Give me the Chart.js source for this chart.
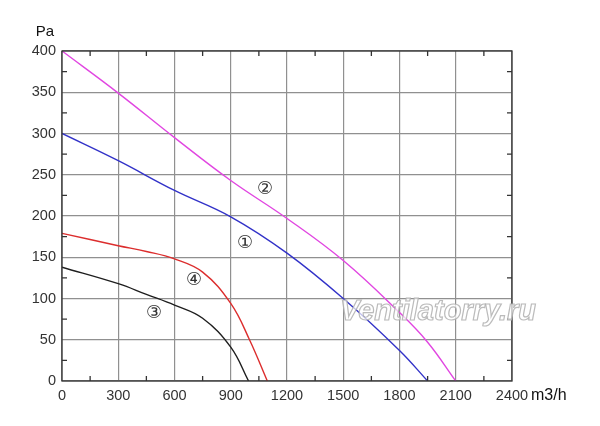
<!DOCTYPE html>
<html>
<head>
<meta charset="utf-8">
<script src="https://cdn.jsdelivr.net/npm/chart.js@4/dist/chart.umd.min.js"></script>
<style>
  html, body { margin: 0; padding: 0; background: #fff; }
  #wrap { width: 600px; height: 426px; }
</style>
</head>
<body>
<div id="wrap"><canvas id="fanChart"></canvas></div>
<script>
// fan curves (flow m3/h -> pressure Pa)
const flow1 = [0, 300, 600, 900, 1200, 1500, 1800, 1950];
const pa1 = [300, 267, 231, 199, 155, 100, 37, 0];
const flow2 = [0, 300, 600, 900, 1200, 1500, 1800, 1950, 2100];
const pa2 = [400, 349, 295, 243, 197, 146, 83, 47, 0];
const flow3 = [0, 300, 450, 600, 750, 900, 995];
const pa3 = [138, 118, 105, 92, 76, 41, 0];
const flow4 = [0, 300, 450, 600, 750, 900, 1000, 1095];
const pa4 = [179, 164, 157, 148, 132, 94, 50, 0];

const curveNames = ['①', '②', '③', '④'];
const labelFlow = [976, 1083, 491, 704];
const labelPa = [167, 232, 82, 122];

const xTicks = [0, 300, 600, 900, 1200, 1500, 1800, 2100, 2400];
const yTicks = [0, 50, 100, 150, 200, 250, 300, 350, 400];

const toPoints = (xs, ys) => xs.map((x, i) => ({x: x, y: ys[i]}));

const tickFont = {family: 'Liberation Sans, Arial, sans-serif', size: 14.5};

// frame, inner minor ticks, curve numbers, axis units, watermark
const decorations = {
    id: 'decorations',
    afterDraw(chart) {
        const {ctx, chartArea: a, scales} = chart;
        const xs = scales.x, ys = scales.y;
        ctx.save();
        ctx.strokeStyle = '#333';
        ctx.lineWidth = 1.3;
        ctx.strokeRect(a.left, a.top, a.right - a.left, a.bottom - a.top);

        ctx.beginPath();
        for (let i = 0; i < xTicks.length - 1; i++) {
            const px = xs.getPixelForValue((xTicks[i] + xTicks[i + 1]) / 2);
            ctx.moveTo(px, a.bottom); ctx.lineTo(px, a.bottom - 5);
            ctx.moveTo(px, a.top); ctx.lineTo(px, a.top + 5);
        }
        for (let i = 0; i < yTicks.length - 1; i++) {
            const py = ys.getPixelForValue((yTicks[i] + yTicks[i + 1]) / 2);
            ctx.moveTo(a.left, py); ctx.lineTo(a.left + 5, py);
            ctx.moveTo(a.right, py); ctx.lineTo(a.right - 5, py);
        }
        ctx.stroke();

        ctx.fillStyle = '#333';
        ctx.font = '18px "DejaVu Sans", sans-serif';
        ctx.textAlign = 'center';
        ctx.textBaseline = 'middle';
        curveNames.forEach((n, i) => {
            ctx.fillText(n, xs.getPixelForValue(labelFlow[i]), ys.getPixelForValue(labelPa[i]));
        });

        ctx.fillStyle = '#111';
        ctx.font = '15px "Liberation Sans", Arial, sans-serif';
        ctx.fillText('Pa', a.left - 17, a.top - 19);
        ctx.textAlign = 'left';
        ctx.font = '16px "Liberation Sans", Arial, sans-serif';
        ctx.fillText('m3/h', a.right + 19, a.bottom + 15);

        ctx.font = 'italic bold 29px "Liberation Sans", Arial, sans-serif';
        ctx.textAlign = 'center';
        ctx.fillStyle = 'rgba(255,255,255,0.7)';
        ctx.strokeStyle = 'rgba(175,175,175,0.85)';
        ctx.lineWidth = 1.2;
        ctx.fillText('Ventilatorry.ru', 438, 312);
        ctx.strokeText('Ventilatorry.ru', 438, 312);
        ctx.restore();
    }
};

const mkSet = (xs, ys, color) => ({
    data: toPoints(xs, ys),
    borderColor: color,
    borderWidth: 1.4,
    pointRadius: 0,
    fill: false,
    tension: 0.4
});

new Chart(document.getElementById('fanChart'), {
    type: 'line',
    data: {
        datasets: [
            mkSet(flow1, pa1, 'rgb(50,50,200)'),
            mkSet(flow2, pa2, 'rgb(225,70,225)'),
            mkSet(flow3, pa3, 'rgb(30,30,30)'),
            mkSet(flow4, pa4, 'rgb(220,45,45)')
        ]
    },
    options: {
        responsive: true,
        maintainAspectRatio: false,
        animation: false,
        layout: {padding: {top: 51, right: 88, left: 0, bottom: 0}},
        plugins: {legend: {display: false}, tooltip: {enabled: false}},
        scales: {
            x: {
                type: 'linear',
                min: 0, max: 2400,
                afterBuildTicks: s => { s.ticks = xTicks.map(v => ({value: v})); },
                afterFit: s => { s.height = 45; },
                grid: {color: '#909090', lineWidth: 1.2, drawTicks: false},
                border: {display: false},
                ticks: {color: '#333', font: tickFont, padding: 6, maxRotation: 0, autoSkip: false,
                        callback: v => String(v)}
            },
            y: {
                type: 'linear',
                min: 0, max: 400,
                afterBuildTicks: s => { s.ticks = yTicks.map(v => ({value: v})); },
                afterFit: s => { s.width = 62; },
                grid: {color: '#909090', lineWidth: 1.2, drawTicks: false},
                border: {display: false},
                ticks: {color: '#333', font: tickFont, padding: 6, callback: v => String(v)}
            }
        }
    },
    plugins: [decorations]
});
</script>
</body>
</html>
